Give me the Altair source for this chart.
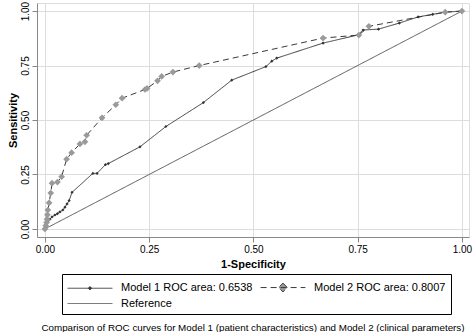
import altair as alt
import pandas as pd

# ---- data ----
m1_fpr = [0, 0.007, 0.012, 0.017, 0.024, 0.030, 0.036, 0.043, 0.048, 0.053, 0.058, 0.065,
          0.115, 0.125, 0.145, 0.152, 0.228, 0.29, 0.38, 0.448, 0.53, 0.544, 0.556, 0.667,
          0.75, 0.763, 0.80, 0.85, 0.895, 0.93, 0.96, 1.0]
m1_tpr = [0, 0.035, 0.045, 0.055, 0.064, 0.07, 0.078, 0.087, 0.10, 0.115, 0.13, 0.168,
          0.255, 0.255, 0.295, 0.30, 0.377, 0.47, 0.58, 0.683, 0.745, 0.77, 0.784, 0.853,
          0.89, 0.913, 0.917, 0.945, 0.973, 0.985, 0.995, 1.0]

m2_fpr = [0, 0.002, 0.004, 0.005, 0.006, 0.007, 0.01, 0.014, 0.017, 0.03, 0.04, 0.052,
          0.064, 0.084, 0.096, 0.10, 0.137, 0.17, 0.185, 0.24, 0.245, 0.27, 0.28, 0.307,
          0.37, 0.667, 0.753, 0.777, 0.96, 1.0]
m2_tpr = [0, 0.015, 0.03, 0.045, 0.065, 0.087, 0.12, 0.165, 0.21, 0.215, 0.24, 0.32,
          0.35, 0.39, 0.40, 0.43, 0.51, 0.57, 0.60, 0.64, 0.645, 0.68, 0.70, 0.72,
          0.75, 0.876, 0.89, 0.93, 0.995, 1.0]

ref_fpr = [0, 1]
ref_tpr = [0, 1]

labels = ["Model 1 ROC area: 0.6538", "Model 2 ROC area: 0.8007", "Reference"]
x_ticks = [0, 0.25, 0.5, 0.75, 1.0]
y_ticks = [0, 0.25, 0.5, 0.75, 1.0]

rows = []
for name, xs, ys in [(labels[0], m1_fpr, m1_tpr), (labels[1], m2_fpr, m2_tpr), (labels[2], ref_fpr, ref_tpr)]:
    for i, (a, b) in enumerate(zip(xs, ys)):
        rows.append({"fpr": a, "tpr": b, "model": name, "order": i})
df = pd.DataFrame(rows)

FONT = "Liberation Sans"
xscale = alt.Scale(domain=[-0.019, 1.017], nice=False, zero=False)
yscale = alt.Scale(domain=[-0.037, 1.037], nice=False, zero=False)

X = alt.X("fpr:Q", scale=xscale,
          axis=alt.Axis(values=x_ticks, format=".2f", title="1-Specificity", titlePadding=4))
Y = alt.Y("tpr:Q", scale=yscale,
          axis=alt.Axis(values=y_ticks, format=".2f", title="Sensitivity", labelAngle=270,
                        labelPadding=2, titlePadding=2))

stroke_scale = alt.Scale(domain=labels, range=["#3a3a3a", "#3a3a3a", "#555555"])
dash_scale = alt.Scale(domain=labels, range=[[1, 0], [6, 4], [1, 0]])
fill_scale = alt.Scale(domain=labels, range=["#333333", "#9a9a9a", "#555555"])
shape_scale = alt.Scale(domain=labels, range=[
    "M-2.8,0L2.8,0M0,-0.22L0.22,0L0,0.22L-0.22,0Z",
    "M-2.8,0L2.8,0M0,-0.55L0.55,0L0,0.55L-0.55,0Z",
    "M-2.8,0L2.8,0",
])

LEG = alt.Legend(
    title=None, orient="none", legendX=25, legendY=271, columns=2, direction="horizontal",
    strokeColor="black", padding=5, labelFont=FONT, labelFontSize=11, labelColor="black",
    symbolSize=256, symbolOffset=14.5, labelOffset=22.5, columnPadding=5, rowPadding=1,
    symbolStrokeWidth=1,
)

lines = alt.Chart(df).mark_line(strokeWidth=1, clip=True).encode(
    x=X, y=Y,
    stroke=alt.Stroke("model:N", scale=stroke_scale, legend=LEG),
    strokeDash=alt.StrokeDash("model:N", scale=dash_scale, legend=LEG),
    order="order:Q",
)

pts1 = alt.Chart(df).transform_filter(alt.datum.model == labels[0]).mark_point(
    shape="diamond", filled=True, size=10, color="#333333", opacity=1
).encode(x=X, y=Y)

pts2 = alt.Chart(df).transform_filter(alt.datum.model == labels[1]).mark_point(
    shape="diamond", filled=True, size=45, color="#9a9a9a", opacity=1
).encode(x=X, y=Y)

legend_layer = alt.Chart(df).transform_filter("false").mark_point(
    filled=True, opacity=1, size=256, strokeWidth=1
).encode(
    x=X, y=Y,
    shape=alt.Shape("model:N", scale=shape_scale, legend=LEG),
    fill=alt.Fill("model:N", scale=fill_scale, legend=LEG),
    stroke=alt.Stroke("model:N", scale=stroke_scale, legend=LEG),
    strokeDash=alt.StrokeDash("model:N", scale=dash_scale, legend=LEG),
)

chart = alt.layer(lines, pts1, pts2, legend_layer).properties(
    width=432, height=234,
    autosize=alt.AutoSizeParams(type="none"),
    padding={"left": 37, "top": 3, "right": 5, "bottom": 95},
    title=alt.TitleParams(
        "Comparison of ROC curves for Model 1 (patient characteristics) and Model 2 (clinical parameters)",
        orient="bottom", anchor="middle", font=FONT, fontSize=9.8, fontWeight="normal",
        color="black", offset=8),
).configure_view(
    stroke="black", strokeWidth=1
).configure_axis(
    labelFont=FONT, labelFontSize=12, labelColor="black", labelPadding=3,
    titleFont=FONT, titleFontSize=10, titleFontWeight="normal", titleColor="black",
    tickColor="black", tickSize=5, domain=False, grid=False,
).configure(background="white")

chart.save("out.html", embed_options={"renderer": "svg", "actions": False})
